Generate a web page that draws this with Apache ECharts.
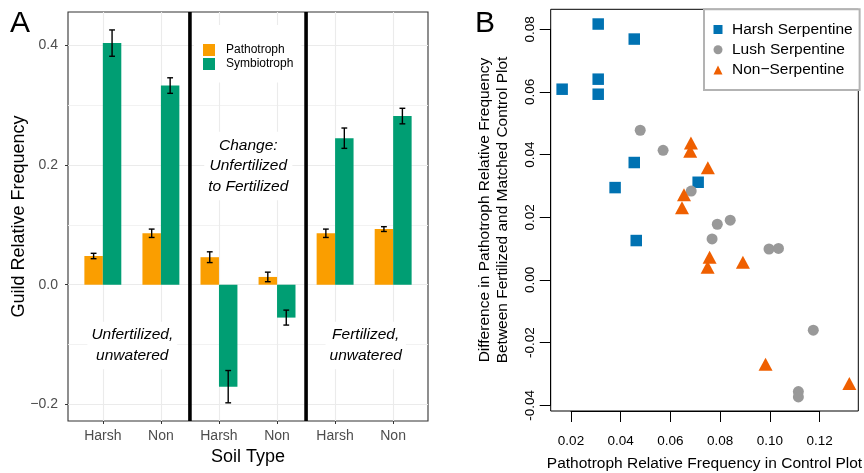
<!DOCTYPE html>
<html><head><meta charset="utf-8">
<script src="https://cdn.jsdelivr.net/npm/echarts@6/dist/echarts.min.js"></script>
<style>html,body{margin:0;padding:0;background:#fff}#c{width:864px;height:473px}</style>
</head><body><div id="c"></div>
<script>
// ---------- Panel A data ----------
const soilCategories = ['Harsh', 'Non', 'Harsh', 'Non', 'Harsh', 'Non'];
const categoryPositions = [1, 2, 3, 4, 5, 6];
const pathotrophValues = [0.048, 0.086, 0.046, 0.013, 0.086, 0.093];
const pathotrophErrors = [0.0045, 0.007, 0.009, 0.008, 0.007, 0.004];
const symbiotrophValues = [0.404, 0.333, -0.1705, -0.055, 0.245, 0.282];
const symbiotrophErrors = [0.022, 0.013, 0.027, 0.0125, 0.017, 0.013];
const panelDividers = [2.5, 4.5];

// ---------- Panel B data ----------
const harshX = [0.0309, 0.0454, 0.0309, 0.0164, 0.0309, 0.0454, 0.0377, 0.0711, 0.0462];
const harshY = [0.0817, 0.0769, 0.0641, 0.0609, 0.0593, 0.0375, 0.0295, 0.0312, 0.0126];
const lushX = [0.0478, 0.0570, 0.0683, 0.0788, 0.0840, 0.0767, 0.0996, 0.1034, 0.1174, 0.1114, 0.1114];
const lushY = [0.0478, 0.0414, 0.0284, 0.0178, 0.0191, 0.0131, 0.0099, 0.0101, -0.0160, -0.0356, -0.0373];
const nonX = [0.0682, 0.0679, 0.0750, 0.0654, 0.0646, 0.0757, 0.0749, 0.0891, 0.0982, 0.1319];
const nonY = [0.0437, 0.0411, 0.0358, 0.0272, 0.0231, 0.0073, 0.0041, 0.0057, -0.0269, -0.0330];

const FONT = "'Liberation Sans', Arial, Helvetica, sans-serif";
const ORANGE = '#FA9E00', GREEN = '#009E73';
const A_YMIN = -0.2279, A_YMAX = 0.4560, A_XMIN = 0.4, A_XMAX = 6.6;
const B_XMIN = 0.0118, B_XMAX = 0.1355, B_YMIN = -0.0418, B_YMAX = 0.0864;
const BAR_W = 0.318, CAP_W = 0.1, OFF = 0.159;

function barSeries(name, values, color, offset) {
  return {
    type: 'custom', name, xAxisIndex: 0, yAxisIndex: 0, z: 2,
    itemStyle: { color },
    encode: { x: 0, y: 1 },
    data: categoryPositions.map((p, i) => [p, values[i]]),
    renderItem(params, api) {
      const x = api.value(0) + offset, y = api.value(1);
      const p0 = api.coord([x - BAR_W / 2, 0]);
      const p1 = api.coord([x + BAR_W / 2, y]);
      return { type: 'rect', shape: { x: p0[0], y: Math.min(p0[1], p1[1]), width: p1[0] - p0[0], height: Math.abs(p1[1] - p0[1]) }, style: { fill: color } };
    }
  };
}
function errSeries(id, values, errors, offset) {
  return {
    type: 'custom', name: id, xAxisIndex: 0, yAxisIndex: 0, z: 3,
    encode: { x: 0, y: 1 },
    data: categoryPositions.map((p, i) => [p, values[i], errors[i]]),
    renderItem(params, api) {
      const x = api.value(0) + offset, y = api.value(1), e = api.value(2);
      const lo = api.coord([x, y - e]), hi = api.coord([x, y + e]);
      const cl = api.coord([x - CAP_W / 2, y])[0], cr = api.coord([x + CAP_W / 2, y])[0];
      const st = { stroke: '#000', lineWidth: 1.4 };
      return { type: 'group', children: [
        { type: 'line', shape: { x1: lo[0], y1: lo[1], x2: hi[0], y2: hi[1] }, style: st },
        { type: 'line', shape: { x1: cl, y1: lo[1], x2: cr, y2: lo[1] }, style: st },
        { type: 'line', shape: { x1: cl, y1: hi[1], x2: cr, y2: hi[1] }, style: st }
      ] };
    }
  };
}
const dividerSeries = {
  type: 'custom', name: 'dividers', xAxisIndex: 0, yAxisIndex: 0, z: 4,
  encode: { x: 0 },
  data: panelDividers.map(v => [v]),
  renderItem(params, api) {
    const x = api.value(0);
    const a = api.coord([x, A_YMIN]), b = api.coord([x, A_YMAX]);
    return { type: 'line', shape: { x1: a[0], y1: a[1], x2: b[0], y2: b[1] }, style: { stroke: '#000', lineWidth: 3.6 } };
  }
};

const hidden = (grid, min, max) => ({ gridIndex: grid, type: 'value', min, max, show: false });
const fmtA = v => Math.abs(v) < 1e-9 ? '0.0' : (v < 0 ? '\u2212' : '') + Math.abs(v).toFixed(1);
const fmtB = v => Math.abs(v) < 1e-9 ? '0.00' : (v < 0 ? '-' : '') + Math.abs(v).toFixed(2);
const note = (x, y, text) => ({ type: 'text', x, y, z: 1,
  style: { text, font: 'italic 15.5px ' + FONT, lineHeight: 20.8, fill: '#000', backgroundColor: '#fff', padding: [3, 4],
    textAlign: 'center', textVerticalAlign: 'middle', align: 'center', verticalAlign: 'middle' } });

const option = {
  backgroundColor: '#fff',
  animation: false,
  textStyle: { fontFamily: FONT },
  grid: [
    { left: 68, top: 12, width: 360, height: 409, show: true, borderColor: '#333', borderWidth: 1.1, backgroundColor: 'transparent' },
    { left: 102.8, top: 12, width: 290.3, height: 409 },
    { left: 68, top: 45.5, width: 360, height: 358.8 },
    { left: 550.7, top: 9.3, width: 307.6, height: 401.7, show: true, borderColor: '#000', borderWidth: 1, backgroundColor: 'transparent' },
    { left: 571, top: 9.3, width: 248.7, height: 401.7 },
    { left: 550.7, top: 29.3, width: 307.6, height: 376 }
  ],
  xAxis: [
    hidden(0, A_XMIN, A_XMAX),
    { gridIndex: 1, type: 'value', min: 1, max: 6, interval: 1,
      axisLine: { show: false },
      axisTick: { show: true, length: 3, lineStyle: { color: '#333', width: 1 } },
      axisLabel: { fontSize: 14, color: '#4d4d4d', margin: 8, fontFamily: FONT, formatter: v => soilCategories[Math.round(v) - 1] },
      splitLine: { show: true, lineStyle: { color: '#ebebeb', width: 1.1 } } },
    hidden(2, 0, 1),
    hidden(3, B_XMIN, B_XMAX),
    { gridIndex: 4, type: 'value', min: 0.02, max: 0.12, interval: 0.02,
      axisLine: { show: true, lineStyle: { color: '#000', width: 1 } },
      axisTick: { show: true, length: 11, lineStyle: { color: '#000', width: 1 } },
      axisLabel: { fontSize: 13.5, color: '#000', margin: 23, fontFamily: FONT, formatter: fmtB },
      splitLine: { show: false } },
    hidden(5, 0, 1)
  ],
  yAxis: [
    hidden(0, A_YMIN, A_YMAX),
    hidden(1, 0, 1),
    { gridIndex: 2, type: 'value', min: -0.2, max: 0.4, interval: 0.2,
      axisLine: { show: false },
      axisTick: { show: true, length: 3, lineStyle: { color: '#333', width: 1 } },
      axisLabel: { fontSize: 14, color: '#4d4d4d', margin: 10, fontFamily: FONT, formatter: fmtA },
      splitLine: { show: true, lineStyle: { color: '#ebebeb', width: 1.1 } },
      minorTick: { show: false, splitNumber: 2 },
      minorSplitLine: { show: true, lineStyle: { color: '#f0f0f0', width: 0.9 } } },
    hidden(3, B_YMIN, B_YMAX),
    hidden(4, 0, 1),
    { gridIndex: 5, type: 'value', min: -0.04, max: 0.08, interval: 0.02,
      axisLine: { show: true, lineStyle: { color: '#000', width: 1 } },
      axisTick: { show: true, length: 11, lineStyle: { color: '#000', width: 1 } },
      axisLabel: { fontSize: 13.5, color: '#000', margin: 13, rotate: 90, fontFamily: FONT, formatter: fmtB },
      splitLine: { show: false } }
  ],
  legend: [
    { data: ['Pathotroph', 'Symbiotroph'], orient: 'vertical', left: 194, top: 25,
      padding: [18.5, 8, 12, 9], itemWidth: 12, itemHeight: 12, itemGap: 1, icon: 'rect',
      backgroundColor: '#fff', selectedMode: false,
      textStyle: { fontSize: 12, lineHeight: 13, color: '#000', fontFamily: FONT, padding: [0, 0, 0, 6] } },
    { data: [{ name: 'Harsh Serpentine', icon: 'rect' }, { name: 'Lush Serpentine', icon: 'circle' }, { name: 'Non\u2212Serpentine', icon: 'triangle' }],
      orient: 'vertical', left: 704, top: 9.3,
      padding: [12.2, 7, 12, 9.5], itemWidth: 9, itemHeight: 9, itemGap: 4.3,
      backgroundColor: '#fff', borderColor: '#b3b3b3', borderWidth: 2, selectedMode: false,
      textStyle: { fontSize: 15.5, lineHeight: 16, color: '#000', fontFamily: FONT, padding: [0, 0, 0, 4.5] } }
  ],
  series: [
    barSeries('Pathotroph', pathotrophValues, ORANGE, -OFF),
    barSeries('Symbiotroph', symbiotrophValues, GREEN, OFF),
    errSeries('errP', pathotrophValues, pathotrophErrors, -OFF),
    errSeries('errS', symbiotrophValues, symbiotrophErrors, OFF),
    dividerSeries,
    { type: 'scatter', name: 'Harsh Serpentine', xAxisIndex: 3, yAxisIndex: 3, symbol: 'rect', symbolSize: 11.5,
      itemStyle: { color: '#0072B2', opacity: 1 }, data: harshX.map((x, i) => [x, harshY[i]]), z: 3 },
    { type: 'scatter', name: 'Lush Serpentine', xAxisIndex: 3, yAxisIndex: 3, symbol: 'circle', symbolSize: 11,
      itemStyle: { color: '#999999', opacity: 1 }, data: lushX.map((x, i) => [x, lushY[i]]), z: 3 },
    { type: 'scatter', name: 'Non\u2212Serpentine', xAxisIndex: 3, yAxisIndex: 3, symbol: 'triangle', symbolSize: [14, 13],
      itemStyle: { color: '#EF5F00', opacity: 1 }, data: nonX.map((x, i) => [x, nonY[i]]), z: 3 }
  ],
  graphic: [
    { type: 'text', x: 10, y: 24, style: { text: 'A', font: '30px ' + FONT, fill: '#000', textAlign: 'left', textVerticalAlign: 'middle', align: 'left', verticalAlign: 'middle' } },
    { type: 'text', x: 475, y: 24, style: { text: 'B', font: '30px ' + FONT, fill: '#000', textAlign: 'left', textVerticalAlign: 'middle', align: 'left', verticalAlign: 'middle' } },
    { type: 'text', x: 19, y: 216.5, rotation: Math.PI / 2, style: { text: 'Guild Relative Frequency', font: '18px ' + FONT, fill: '#000', textAlign: 'center', textVerticalAlign: 'middle', align: 'center', verticalAlign: 'middle' } },
    { type: 'text', x: 248, y: 457, style: { text: 'Soil Type', font: '18px ' + FONT, fill: '#000', textAlign: 'center', textVerticalAlign: 'middle', align: 'center', verticalAlign: 'middle' } },
    note(248.3, 166, 'Change:\nUnfertilized\nto Fertilized'),
    note(132.3, 345.5, 'Unfertilized,\nunwatered'),
    note(365.7, 345.5, 'Fertilized,\nunwatered'),
    { type: 'text', x: 704.5, y: 464, style: { text: 'Pathotroph Relative Frequency in Control Plot', font: '15.5px ' + FONT, fill: '#000', textAlign: 'center', textVerticalAlign: 'middle', align: 'center', verticalAlign: 'middle' } },
    { type: 'text', x: 494, y: 210, rotation: Math.PI / 2, style: { text: 'Difference in Pathotroph Relative Frequency\nBetween Fertilized and Matched Control Plot', font: '15.5px ' + FONT, lineHeight: 18, fill: '#000', textAlign: 'center', textVerticalAlign: 'middle', align: 'center', verticalAlign: 'middle' } }
  ]
};
const chart = echarts.init(document.getElementById('c'), null, { renderer: 'canvas' });
chart.setOption(option);
</script>
</body></html>
